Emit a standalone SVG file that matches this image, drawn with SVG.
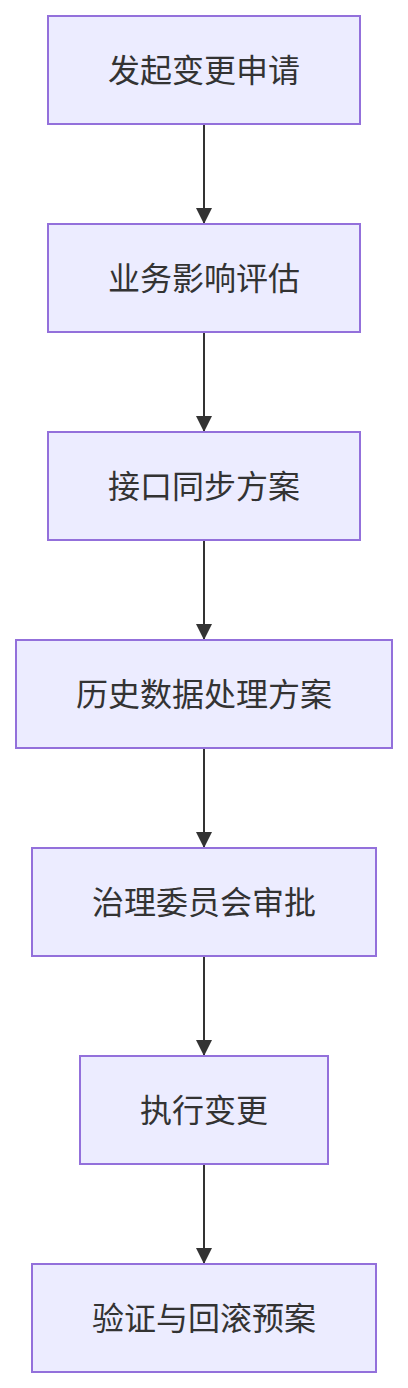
<svg xmlns="http://www.w3.org/2000/svg" width="408" height="1388" viewBox="0 0 408 1388">
<style>
.node rect{fill:#ECECFF;stroke:#9370DB;stroke-width:2}
.node text{font-family:"Noto Sans CJK SC","Liberation Sans",sans-serif;font-size:32px;fill:#333;text-anchor:middle;dominant-baseline:central}
.edge{stroke:#333;stroke-width:2;fill:none}
</style>
<defs>
<marker id="arrow" markerUnits="userSpaceOnUse" markerWidth="16" markerHeight="16" refX="16" refY="8" orient="auto">
<path d="M0,0 L16,8 L0,16 Z" fill="#333"/>
</marker>
</defs>
<rect width="408" height="1388" fill="#fff"/>
<g id="edges">
<line class="edge" x1="204" y1="124" x2="204" y2="224" marker-end="url(#arrow)"/>
<line class="edge" x1="204" y1="332" x2="204" y2="432" marker-end="url(#arrow)"/>
<line class="edge" x1="204" y1="540" x2="204" y2="640" marker-end="url(#arrow)"/>
<line class="edge" x1="204" y1="748" x2="204" y2="848" marker-end="url(#arrow)"/>
<line class="edge" x1="204" y1="956" x2="204" y2="1056" marker-end="url(#arrow)"/>
<line class="edge" x1="204" y1="1164" x2="204" y2="1264" marker-end="url(#arrow)"/>
</g>
<g id="n1" class="node"><rect x="48" y="16" width="312" height="108"/><text x="204" y="68">发起变更申请</text></g>
<g id="n2" class="node"><rect x="48" y="224" width="312" height="108"/><text x="204" y="276">业务影响评估</text></g>
<g id="n3" class="node"><rect x="48" y="432" width="312" height="108"/><text x="204" y="484">接口同步方案</text></g>
<g id="n4" class="node"><rect x="16" y="640" width="376" height="108"/><text x="204" y="692">历史数据处理方案</text></g>
<g id="n5" class="node"><rect x="32" y="848" width="344" height="108"/><text x="204" y="900">治理委员会审批</text></g>
<g id="n6" class="node"><rect x="80" y="1056" width="248" height="108"/><text x="204" y="1108">执行变更</text></g>
<g id="n7" class="node"><rect x="32" y="1264" width="344" height="108"/><text x="204" y="1316">验证与回滚预案</text></g>
</svg>
